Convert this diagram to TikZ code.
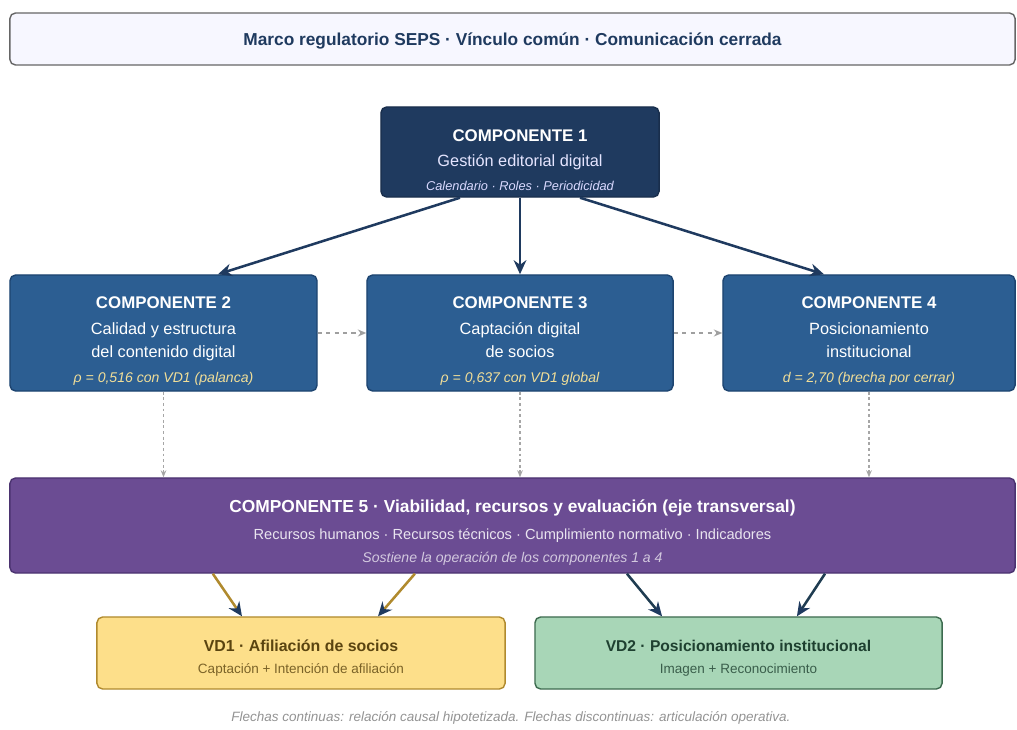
\documentclass[tikz,border=0pt]{standalone}
\usepackage{fontspec}
\setmainfont{Liberation Sans}
\usepackage{xcolor}
\usetikzlibrary{arrows.meta}

\definecolor{navy}{HTML}{1F3A5F}
\definecolor{compblue}{HTML}{2C5E92}
\definecolor{compedge}{HTML}{1D4470}
\definecolor{purp}{HTML}{6B4C93}
\definecolor{purpedge}{HTML}{4B3370}
\definecolor{gold}{HTML}{FDDF8A}
\definecolor{goldedge}{HTML}{B08A2E}
\definecolor{golddark}{HTML}{5A4410}
\definecolor{mint}{HTML}{A8D6B7}
\definecolor{mintedge}{HTML}{3D6B4F}
\definecolor{mintdark}{HTML}{1E4030}
\definecolor{noteyel}{HTML}{F1DE98}

\newcommand{\ttl}{\fontsize{12}{15}\selectfont\bfseries}
\newcommand{\nte}{\fontsize{10}{12}\selectfont\itshape}
\newcommand{\dn}[1]{\rule{0pt}{#1}}

\begin{document}
\begin{tikzpicture}[x=0.025cm,y=-0.025cm,
  box/.style={rectangle,rounded corners=4pt,draw,line width=1pt,align=center,inner sep=0pt},
  comp/.style={box,fill=compblue,draw=compedge,text=white,minimum height=2.9cm,
    font=\fontsize{11.6}{16.3}\selectfont},
  causal/.style={draw=navy,line width=1.8pt,-{Stealth[length=10pt,width=9pt,color=navy]}},
  oper/.style={draw=gray!75,line width=1.1pt,dash pattern=on 3pt off 3pt,-{Stealth[length=6pt,width=5pt]}},
  vert/.style={draw=gray!70,line width=0.9pt,dash pattern=on 2pt off 2pt,-{Stealth[length=5pt,width=4pt]}}
]
\useasboundingbox (0,0) rectangle (1017,729);

\node[box,fill=blue!3,draw=gray!80!black,minimum width=25.125cm,minimum height=1.3cm,
  text=navy,font=\fontsize{12.3}{14}\selectfont\bfseries] (marco) at (512.5,39)
  {\dn{12.5pt}Marco regulatorio SEPS · Vínculo común · Comunicación cerrada};

\node[box,fill=navy,draw=navy!80!black,text=white,minimum width=6.95cm,minimum height=2.25cm,
  font=\fontsize{11.6}{17}\selectfont] (c1) at (520,152)
  {{\ttl\dn{20pt}COMPONENTE 1}\\[1pt]
   {\color{white!90!blue}Gestión editorial digital}\\
   {\fontsize{9.1}{11}\selectfont\itshape\color{blue!15!white}Calendario · Roles · Periodicidad}};

\node[comp,minimum width=7.675cm] (c2) at (163.5,333)
  {{\ttl\dn{20pt}COMPONENTE 2}\\[2pt]
   Calidad y estructura\\
   del contenido digital\\[2pt]
   {\nte\color{noteyel}ρ = 0,516 con VD1 (palanca)}};
\node[comp,minimum width=7.65cm] (c3) at (520,333)
  {{\ttl\dn{20pt}COMPONENTE 3}\\[2pt]
   Captación digital\\
   de socios\\[2pt]
   {\nte\color{noteyel}ρ = 0,637 con VD1 global}};
\node[comp,minimum width=7.3cm] (c4) at (869,333)
  {{\ttl\dn{20pt}COMPONENTE 4}\\[2pt]
   Posicionamiento\\
   institucional\\[2pt]
   {\nte\color{noteyel}d = 2,70 (brecha por cerrar)}};

\node[box,fill=purp,draw=purpedge,text=white,minimum width=25.125cm,minimum height=2.375cm,
  font=\fontsize{10.4}{16.3}\selectfont] (c5) at (512.5,525.5)
  {{\fontsize{12.35}{15}\selectfont\bfseries\dn{19pt}COMPONENTE 5 · Viabilidad, recursos y evaluación (eje transversal)}\\[3pt]
   {\color{white!85!purp}Recursos humanos · Recursos técnicos · Cumplimiento normativo · Indicadores}\\
   {\nte\color{white!70!purp}Sostiene la operación de los componentes 1 a 4}};

\node[box,fill=gold,draw=goldedge,minimum width=10.2cm,minimum height=1.8cm,
  font=\fontsize{9.6}{15.6}\selectfont] (vd1) at (301,653)
  {{\fontsize{11.3}{14}\selectfont\bfseries\color{golddark}\dn{15pt}VD1 · Afiliación de socios}\\
   {\color{golddark!80!gold}Captación + Intención de afiliación}};
\node[box,fill=mint,draw=mintedge,minimum width=10.175cm,minimum height=1.8cm,
  font=\fontsize{9.6}{15.6}\selectfont] (vd2) at (738.5,653)
  {{\fontsize{11.1}{14}\selectfont\bfseries\color{mintdark}\dn{15pt}VD2 · Posicionamiento institucional}\\
   {\color{mintdark!80!mint}Imagen + Reconocimiento}};

\node[font=\fontsize{9.6}{11}\selectfont\itshape,text=gray!85] (nota) at (511,718)
  {Flechas continuas: relación causal hipotetizada. Flechas discontinuas: articulación operativa.};

\path
  ([xshift=-1.5cm]c1.south) edge[causal] ([xshift=1.36cm]c2.north)
  (c1.south) edge[causal] (c3.north)
  ([xshift=1.5cm]c1.south) edge[causal] ([xshift=-1.125cm]c4.north)
  (c2.east) edge[oper] (c3.west)
  (c3.east) edge[oper] (c4.west)
  (c2.south) edge[vert] (c2.south|-c5.north)
  (c3.south) edge[vert] (c3.south|-c5.north)
  (c4.south) edge[vert] (c4.south|-c5.north)
  ([xshift=-7.49cm]c5.south) edge[causal,draw=goldedge] ([xshift=-1.475cm]vd1.north)
  ([xshift=-2.44cm]c5.south) edge[causal,draw=goldedge] ([xshift=1.925cm]vd1.north)
  ([xshift=2.86cm]c5.south) edge[causal,draw=navy!70!mintdark] ([xshift=-1.91cm]vd2.north)
  ([xshift=7.81cm]c5.south) edge[causal,draw=navy!70!mintdark] ([xshift=1.46cm]vd2.north);
\end{tikzpicture}
\end{document}
